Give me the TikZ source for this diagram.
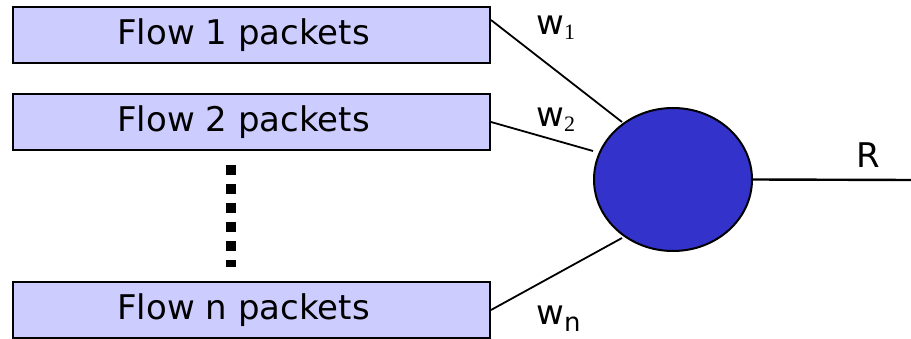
\documentclass[tikz,border=0pt]{standalone}
\usepackage{fontspec}
\setmainfont{DejaVu Sans}
\newfontfamily\subserif{Liberation Serif}
\usetikzlibrary{shapes.geometric}
\begin{document}
\begin{tikzpicture}[x=1pt,y=-1pt,
  flowbox/.style={draw=black, line width=2pt, fill=flowfill, minimum width=477pt,
    minimum height=56pt, inner sep=0pt, font=\fontsize{34}{38}\selectfont},
  link/.style={draw=black, line width=1.8pt},
  wlabel/.style={font=\fontsize{34}{38}\selectfont, inner sep=0pt, anchor=base west}]
\definecolor{flowfill}{RGB}{204,204,255}
\definecolor{schedfill}{RGB}{51,51,204}
\useasboundingbox (0,0) rectangle (911,339);

% per-flow queues
\node[flowbox] (f1) at (251.5,35) {Flow 1 packets\hspace*{16pt}};
\node[flowbox] (f2) at (251.5,122) {Flow 2 packets\hspace*{16pt}};
\node[flowbox] (fn) at (251.5,310) {Flow n packets\hspace*{16pt}};

% ellipsis between the queues
\coordinate (dtop) at (231,165);
\coordinate (dbot) at (231,267);
\draw[line width=10pt, dash pattern=on 10pt off 9pt] (dtop) -- (dbot);

% scheduler
\node[draw=black, line width=2pt, fill=schedfill, ellipse, minimum width=158pt,
  minimum height=143pt, inner sep=0pt] (s) at (673,179.5) {};
\coordinate (c1) at (622,122);
\coordinate (c2) at (593,151);
\coordinate (cn) at (622,238);
\coordinate (out) at (911,180);

\draw[link] (f1.east |- 0,20) -- (c1);
\draw[link] (f2.east) -- (c2);
\draw[link] (fn.east) -- (cn);
\draw[link, line width=2.4pt] (s.east) -- (out);

% weights and rate
\node[wlabel] (w1) at (536,35) {w\raisebox{-5pt}{\subserif\fontsize{22}{24}\selectfont 1}};
\node[wlabel] (w2) at (536,127) {w\raisebox{-5pt}{\subserif\fontsize{22}{24}\selectfont 2}};
\node[wlabel] (wn) at (536,324) {w\raisebox{-7pt}{\fontsize{26}{28}\selectfont n}};
\node[wlabel] (r) at (856,168) {R};
\end{tikzpicture}
\end{document}
